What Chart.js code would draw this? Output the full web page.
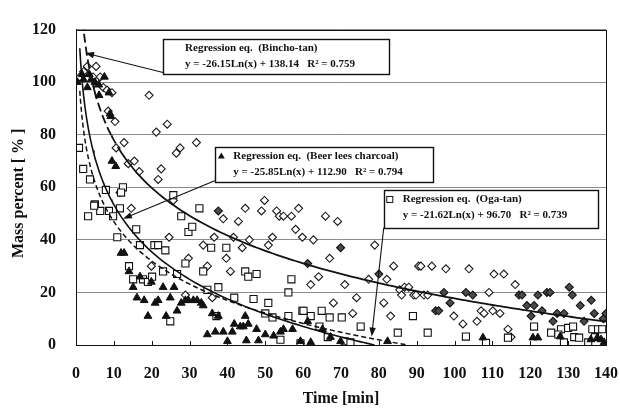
<!DOCTYPE html>
<html>
<head>
<meta charset="utf-8">
<title>Mass percent vs time</title>
<script src="https://cdn.jsdelivr.net/npm/chart.js@4.4.0/dist/chart.umd.min.js"></script>
<style>
  html, body { margin: 0; padding: 0; background: #fff; }
  #wrap { width: 620px; height: 408px; }
</style>
</head>
<body>
<div id="wrap"><canvas id="myChart" width="620" height="408"></canvas></div>
<script>
// ======================= DONNÉES =======================

const timeTicks = [0, 10, 20, 30, 40, 50, 60, 70, 80, 90, 100, 110, 120, 130, 140];
const massTicks = [0, 20, 40, 60, 80, 100, 120];

// Bincho-tan (losanges vides)
const binchoTime = [1, 2, 3, 4.5, 5.3, 6.4, 7.2, 8.2, 9.5, 8.5, 10.3, 19.3, 24.1, 21.2, 31.8, 27.5, 26.5, 12.7, 10.6, 15.4,
  13.8, 16.7, 22.5, 21.7, 11.6, 25.7, 14.6, 24.6, 19.9, 33.6, 36.5, 38.9, 42.9, 44.7, 41.6, 43.9, 29.7, 39.7, 34.7, 40.8,
  28.9, 36, 49.8, 49, 53, 53.7, 54.8, 56.9, 58.8, 65.9, 69.1, 58, 59.8, 62.7, 51.9, 50.8, 45.8, 67, 78.9, 83.9,
  77.3, 82.1, 64.1, 62, 71, 74.1, 68, 73.1, 81.3, 83.1, 85.5, 86.8, 87.9, 86, 89.2, 90.5, 91.1, 94, 97.7, 103.8,
  89.8, 91.9, 92.9, 109.1, 99.8, 102.2, 105.9, 107, 107.8, 110.1, 112, 114.1, 114.9, 110.4, 113, 116];
const binchoMass = [102, 104, 106, 102, 106, 102, 98, 97, 96, 89, 85, 95, 84, 81, 77, 75, 73, 77, 75, 70,
  69, 66, 67, 63, 58, 55, 52, 41, 30, 38, 41, 48, 47, 52, 41, 37, 33, 33, 30, 28,
  19, 18, 55, 51, 51, 49, 49, 49, 52, 49, 47, 44, 41, 40, 41, 38, 40, 33, 38, 30,
  25, 25, 26, 23, 23, 18, 16, 12, 16, 11, 21, 22, 22, 19, 19, 30, 30, 30, 29, 29,
  19, 19, 19, 20, 11, 8, 9, 13, 12, 13, 12, 6, 3, 27, 27, 23];

// Bincho-tan (losanges pleins, fin d'essai)
const binchoDarkTime = [37.6, 61.2, 69.9, 80, 95, 95.8, 97.2, 98.8, 103, 104.8, 117, 117.8, 119.1, 120.2, 121,
  122, 123.1, 124.4, 125.2, 126, 127.1, 128.9, 130.3, 131.1, 133.2, 134.2, 136.1, 136.9, 139.3, 140];
const binchoDarkMass = [51, 31, 37, 27, 13, 13, 20, 16, 20, 19, 19, 19, 15, 11, 15,
  19, 13, 20, 20, 9, 12, 12, 22, 19, 15, 9, 17, 12, 10, 12];

// Beer lees charcoal (triangles pleins)
const beerTime = [0.3, 1.6, 2, 3, 3.5, 4, 5, 6, 6.1, 7.5, 8.7, 9, 9.2, 9.5, 10.5, 11.9, 12.7, 14, 15.1, 16.1,
  16.9, 18, 19, 19.9, 20.9, 21.7, 23, 23.8, 24.9, 25.9, 26.7, 27.8, 28.9, 29.7, 31, 32, 33.1, 33.6, 34.7, 36,
  36.8, 37.6, 38.9, 40, 41.3, 41.8, 43.4, 44.2, 44.7, 45, 45.5, 47.7, 48.2, 50, 52.2, 54, 54.8, 57.2, 59.3, 61.2,
  62, 65.1, 67.2, 69.9, 82.3, 107.5, 120.7, 122, 127.9, 136, 137.7, 138.7, 139.5];
const beerMass = [100, 103, 101, 98, 103, 101, 100, 99, 95, 102, 96, 88, 87, 70, 68, 35, 35, 28, 22, 18,
  26, 17, 11, 24, 16, 17, 22, 11, 18, 22, 13, 16, 17, 17, 17, 17, 16, 15, 4, 12,
  5, 11, 5, 1.4, 5, 8, 7, 7, 11, 1.7, 8, 6, 1.7, 4, 3.5, 5, 6, 6, 1.4, 9,
  1, 6, 3, 1.4, 1.4, 2.8, 2.8, 2.8, 3.2, 2.1, 2.8, 2.1, 1];

// Oga-tan (carrés vides)
const ogaTime = [0.8, 1.9, 3.7, 7.9, 12.4, 11.9, 5, 6.4, 8.7, 11.6, 25.7, 32.6, 3.2, 4.8, 9.8, 15.9, 10.9, 14, 15.1, 16.9,
  20.7, 21.7, 23.6, 17.7, 19, 20.1, 23, 26.7, 24.9, 27.8, 29.7, 30.7, 35.7, 39.7, 28.9, 33.6, 34.7, 37.6, 44.7, 41.8,
  37.1, 45.5, 47.7, 56.9, 56.1, 46.9, 50.8, 59.8, 64.9, 67, 70.2, 75.2, 89, 85, 50, 51.9, 56.1, 64.3, 66.5, 54,
  71, 72.5, 92.9, 103, 108.3, 114.1, 121, 125.5, 128.1, 130, 131.3, 127.4, 128.9, 131.6, 132.9, 135.3, 136.4, 137.9, 139, 137.1,
  59.3, 62, 60.1];
const ogaMass = [75, 67, 63, 59, 60, 58, 53.5, 51, 51, 52, 57, 52, 49, 53, 49, 44, 41, 30, 25, 38,
  38, 38, 36, 25, 24, 26, 28, 27, 9, 49, 43, 45, 37, 37, 31, 28, 21, 22, 28, 18,
  11, 26, 27, 25, 20, 17.5, 16, 13, 13, 10.5, 10.5, 7, 11, 4.7, 12, 10.5, 11, 7, 3, 2,
  1.4, 1, 4.7, 3.2, 0.8, 2.8, 7, 4.7, 6, 6.5, 7, 4, 1, 3, 2.8, 1, 6, 6, 6, 3,
  0.6, 11, 13];

// Régressions logarithmiques : [pente, ordonnée]  (y = a Ln(x) + b)
const binchoFit = [-26.15, 138.14];
const beerFit = [-25.85, 112.90];
const ogaFit = [-21.62, 96.70];

// ======================= ANNOTATIONS (coordonnées en minutes / %) =======================

const SERIF = '"Liberation Serif", "Times New Roman", serif';

const notes = [
  { box: [23.0, 116.6, 82.6, 103.4], marker: null, indent: 22,
    lines: ['Regression eq.  (Bincho-tan)', 'y = -26.15Ln(x) + 138.14   R\u00B2 = 0.759'],
    from: [23.0, 103.7], to: [2.4, 111.1] },
  { box: [36.8, 75.5, 94.5, 62.3], marker: 'triangle', indent: 18,
    lines: ['Regression eq.  (Beer lees charcoal)', 'y = -25.85Ln(x) + 112.90   R\u00B2 = 0.794'],
    from: [36.8, 62.6], to: [12.4, 48.0] },
  { box: [81.3, 59.0, 137.9, 44.7], marker: 'square', indent: 19,
    lines: ['Regression eq.  (Oga-tan)', 'y = -21.62Ln(x) + 96.70   R\u00B2 = 0.739'],
    from: [81.3, 44.7], to: [78.1, 3.2] }
];

// ======================= OUTILS =======================

function pairUp(xs, ys) {
  return xs.map((x, i) => ({ x: x, y: ys[i] }));
}

function trendCurve(fit) {
  const slope = fit[0], intercept = fit[1];
  const xZero = Math.exp(-intercept / slope);
  const pts = [];
  for (let x = 1; x <= 140; x += (x < 10 ? 0.25 : 1)) {
    if (x >= xZero) break;
    pts.push({ x: x, y: slope * Math.log(x) + intercept });
  }
  if (xZero < 140) pts.push({ x: xZero, y: 0 });
  return pts;
}

function drawArrow(c, x1, y1, x2, y2) {
  const ang = Math.atan2(y2 - y1, x2 - x1);
  const len = 9, half = 3.2;
  c.beginPath();
  c.moveTo(x1, y1);
  c.lineTo(x2 - Math.cos(ang) * len * 0.8, y2 - Math.sin(ang) * len * 0.8);
  c.stroke();
  c.beginPath();
  c.moveTo(x2, y2);
  c.lineTo(x2 - Math.cos(ang) * len - Math.sin(ang) * half, y2 - Math.sin(ang) * len + Math.cos(ang) * half);
  c.lineTo(x2 - Math.cos(ang) * len + Math.sin(ang) * half, y2 - Math.sin(ang) * len - Math.cos(ang) * half);
  c.closePath();
  c.fill();
}

// Cadre, petites graduations internes et encadrés des équations
const notesPlugin = {
  id: 'notes',
  afterDatasetsDraw(chart) {
    const c = chart.ctx;
    const area = chart.chartArea;
    const sx = chart.scales.x, sy = chart.scales.y;
    c.save();
    c.strokeStyle = '#111';
    c.lineWidth = 1;
    c.strokeRect(Math.round(area.left) + 0.5, Math.round(area.top) + 0.5,
      Math.round(area.right - area.left), Math.round(area.bottom - area.top));

    c.beginPath();
    timeTicks.forEach(t => {
      const px = Math.round(sx.getPixelForValue(t)) + 0.5;
      c.moveTo(px, area.bottom);
      c.lineTo(px, area.bottom - 4);
    });
    c.stroke();

    notes.forEach(n => {
      const left = sx.getPixelForValue(n.box[0]);
      const top = sy.getPixelForValue(n.box[1]);
      const right = sx.getPixelForValue(n.box[2]);
      const bottom = sy.getPixelForValue(n.box[3]);

      c.fillStyle = '#111';
      c.strokeStyle = '#111';
      c.lineWidth = 1.1;
      drawArrow(c, sx.getPixelForValue(n.from[0]), sy.getPixelForValue(n.from[1]),
        sx.getPixelForValue(n.to[0]), sy.getPixelForValue(n.to[1]));

      c.fillStyle = '#fff';
      c.fillRect(left, top, right - left, bottom - top);
      c.lineWidth = 1.4;
      c.strokeRect(Math.round(left) + 0.5, Math.round(top) + 0.5, Math.round(right - left), Math.round(bottom - top));

      c.fillStyle = '#111';
      c.font = 'bold 11px ' + SERIF;
      c.textBaseline = 'middle';
      c.textAlign = 'left';
      const tx = left + n.indent;
      const y1 = top + 9.5, y2 = top + 25.5;
      c.fillText(n.lines[0], tx, y1);
      c.fillText(n.lines[1], tx, y2);

      const mx = left + 6;
      if (n.marker === 'triangle') {
        c.beginPath();
        c.moveTo(mx, y1 - 3.5);
        c.lineTo(mx + 3.5, y1 + 2.5);
        c.lineTo(mx - 3.5, y1 + 2.5);
        c.closePath();
        c.fill();
      } else if (n.marker === 'square') {
        c.lineWidth = 1;
        c.strokeRect(mx - 3, y1 - 3, 6, 6);
      }
    });
    c.restore();
  }
};

// ======================= GRAPHIQUE =======================

const ctx = document.getElementById('myChart').getContext('2d');

const tickFont = { family: SERIF, size: 16, weight: 'bold' };

new Chart(ctx, {
  type: 'scatter',
  data: {
    datasets: [
      { label: 'Bincho-tan fit', data: trendCurve(binchoFit), showLine: true, pointRadius: 0,
        borderColor: '#111', borderWidth: 1.8,
        segment: { borderDash: s => (s.p0.parsed.x < 11 ? [9, 4] : undefined) } },
      { label: 'Beer lees fit', data: trendCurve(beerFit), showLine: true, pointRadius: 0,
        borderColor: '#111', borderWidth: 1.6 },
      { label: 'Oga-tan fit', data: trendCurve(ogaFit), showLine: true, pointRadius: 0,
        borderColor: '#111', borderWidth: 1.5, borderDash: [5, 3] },
      { label: 'Beer lees charcoal', data: pairUp(beerTime, beerMass), pointStyle: 'triangle',
        pointRadius: 4.5, backgroundColor: '#111', borderColor: '#111', borderWidth: 1 },
      { label: 'Oga-tan', data: pairUp(ogaTime, ogaMass), pointStyle: 'rect',
        pointRadius: 5, backgroundColor: '#fff', borderColor: '#111', borderWidth: 1.1 },
      { label: 'Bincho-tan (dark)', data: pairUp(binchoDarkTime, binchoDarkMass), pointStyle: 'rectRot',
        pointRadius: 4, backgroundColor: '#4a4a4a', borderColor: '#111', borderWidth: 1.1 },
      { label: 'Bincho-tan', data: pairUp(binchoTime, binchoMass), pointStyle: 'rectRot',
        pointRadius: 4, backgroundColor: '#fff', borderColor: '#1a1a1a', borderWidth: 1.1 }
    ]
  },
  options: {
    responsive: false,
    animation: false,
    layout: { padding: { top: 18, right: 14, left: 0, bottom: 0 } },
    plugins: {
      legend: { display: false },
      tooltip: { enabled: false }
    },
    scales: {
      x: {
        type: 'linear', min: 0, max: 140,
        afterBuildTicks: s => { s.ticks = timeTicks.map(v => ({ value: v })); },
        afterFit: s => { s.height = 63; s.paddingLeft = 0; s.paddingRight = 0; },
        grid: { display: false },
        border: { display: true, color: '#111', width: 1 },
        ticks: { color: '#111', font: tickFont, padding: 11, maxRotation: 0 },
        title: { display: true, text: 'Time [min]', color: '#111', font: tickFont, padding: { top: 0, bottom: 0 } }
      },
      y: {
        type: 'linear', min: 0, max: 120,
        afterBuildTicks: s => { s.ticks = massTicks.map(v => ({ value: v })); },
        afterFit: s => { s.width = 76; },
        grid: { color: '#8c8c8c', lineWidth: 1, drawTicks: false },
        border: { display: true, color: '#111', width: 1 },
        ticks: { color: '#111', font: tickFont, padding: 20 },
        title: { display: true, text: 'Mass percent [ % ]   ', color: '#111', font: tickFont, padding: { top: 9, bottom: 0 } }
      }
    }
  },
  plugins: [notesPlugin]
});
</script>
</body>
</html>
